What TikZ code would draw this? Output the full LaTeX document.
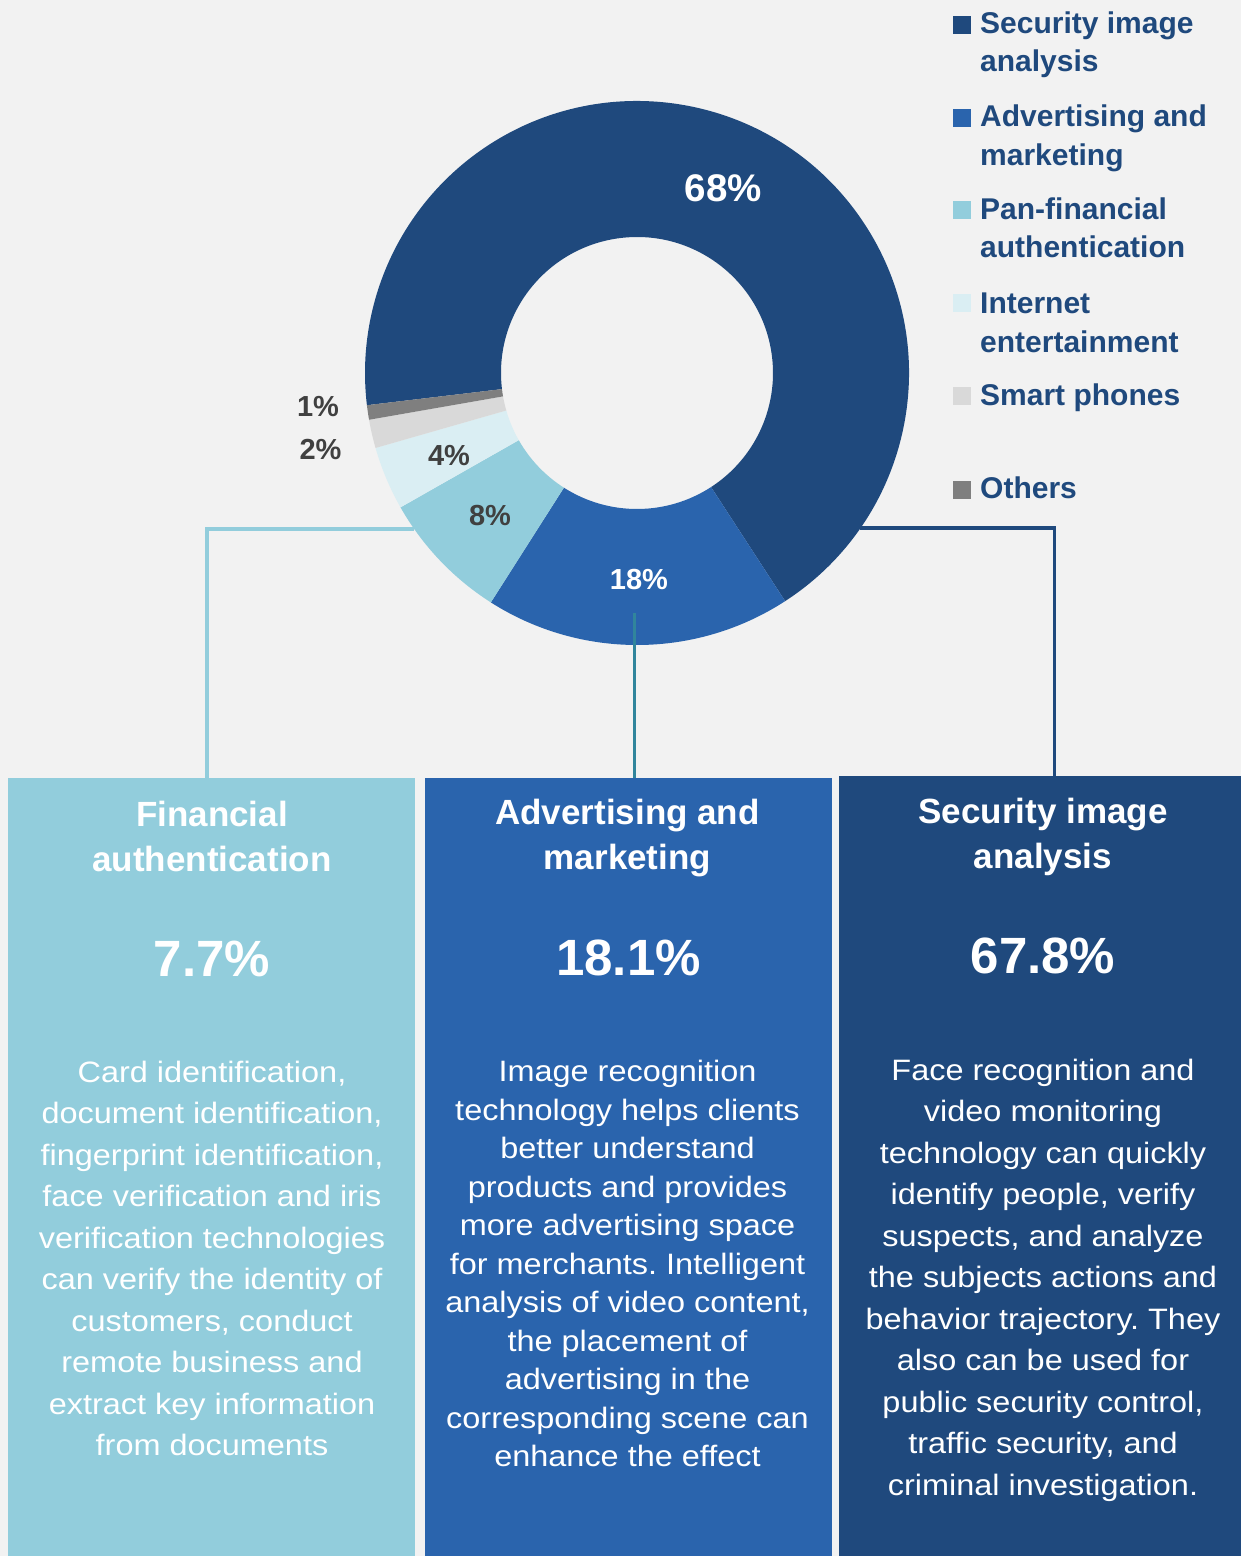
\documentclass[tikz,border=0pt]{standalone}
\usepackage{fontspec}
\setmainfont{Liberation Sans}
\newfontfamily\bodyfont{Liberation Sans}[FakeStretch=1.1]
\frenchspacing
\definecolor{navy}{HTML}{1F497D}
\definecolor{midblue}{HTML}{2A64AD}
\definecolor{lightblue}{HTML}{92CDDC}
\definecolor{paleblue}{HTML}{DAEEF3}
\definecolor{lightgray}{HTML}{D9D9D9}
\definecolor{midgray}{HTML}{7F7F7F}
\definecolor{bg}{HTML}{F2F2F2}
\definecolor{teal}{HTML}{31859C}
\definecolor{lblgray}{HTML}{404040}
\tikzset{
  panel/.style={draw=none, inner sep=0pt, outer sep=0pt, anchor=north west},
  ttl/.style={text=white, font=\bfseries\fontsize{35}{45}\selectfont, align=center, inner sep=0pt, anchor=north},
  pct/.style={text=white, font=\bfseries\fontsize{51}{51}\selectfont, inner sep=0pt, anchor=base},
  body/.style={text=white, font=\bodyfont\frenchspacing\fontsize{29.5}{41.5}\selectfont, align=center, inner sep=0pt, anchor=north},
  leg/.style={text=navy, font=\bfseries\fontsize{30}{38.5}\selectfont, align=left, inner sep=0pt, anchor=north west},
  legsq/.style={minimum size=18pt, inner sep=0pt, anchor=south west},
  seglbl/.style={font=\bfseries\fontsize{29}{29}\selectfont, inner sep=0pt, anchor=base},
  conn/.style={line width=3.2pt},
}
\begin{document}
\begin{tikzpicture}[x=1pt,y=-1pt]
\fill[bg] (0,0) rectangle (1241,1556);
\useasboundingbox (0,0) rectangle (1241,1556);

% panels
\node[panel, fill=lightblue, minimum width=407pt, minimum height=778pt] (b1) at (8,778) {};
\node[panel, fill=midblue, minimum width=407pt, minimum height=778pt] (b2) at (425,778) {};
\node[panel, fill=navy, minimum width=402pt, minimum height=780pt] (b3) at (839,776) {};

% connector end points
\coordinate (d1) at (414,529);
\coordinate (c1) at (207,778);
\coordinate (d3) at (860,528);
\coordinate (c3) at (1054.5,776);
\coordinate (d2) at (634.3,613);
\coordinate (c2) at (634.3,778);

\draw[conn, lightblue] (d1) -| (c1);
\draw[conn, navy] (d3) -| (c3);

% donut
\begin{scope}[shift={(637,373)}, yscale=-1]
  \def\Ro{272}\def\Ri{136}
  \fill[navy] (-57:\Ro) arc[start angle=-57, end angle=186.8, radius=\Ro] -- (186.8:\Ri) arc[start angle=186.8, end angle=-57, radius=\Ri] -- cycle;
  \fill[midblue] (-122.5:\Ro) arc[start angle=-122.5, end angle=-57, radius=\Ro] -- (-57:\Ri) arc[start angle=-57, end angle=-122.5, radius=\Ri] -- cycle;
  \fill[lightblue] (-150.4:\Ro) arc[start angle=-150.4, end angle=-122.5, radius=\Ro] -- (-122.5:\Ri) arc[start angle=-122.5, end angle=-150.4, radius=\Ri] -- cycle;
  \fill[paleblue] (-164:\Ro) arc[start angle=-164, end angle=-150.4, radius=\Ro] -- (-150.4:\Ri) arc[start angle=-150.4, end angle=-164, radius=\Ri] -- cycle;
  \fill[lightgray] (-170.1:\Ro) arc[start angle=-170.1, end angle=-164, radius=\Ro] -- (-164:\Ri) arc[start angle=-164, end angle=-170.1, radius=\Ri] -- cycle;
  \fill[midgray] (-173.2:\Ro) arc[start angle=-173.2, end angle=-170.1, radius=\Ro] -- (-170.1:\Ri) arc[start angle=-170.1, end angle=-173.2, radius=\Ri] -- cycle;
\end{scope}

\draw[conn, teal] (d2) -- (c2);

% segment labels
\node[seglbl, text=white, font=\bfseries\fontsize{38.5}{38.5}\selectfont] (l68) at (723.5,201.5) {68\%};
\node[seglbl, text=white] (l18) at (639,589) {18\%};
\node[seglbl, text=lblgray] (l8) at (490,525) {8\%};
\node[seglbl, text=lblgray] (l4) at (449,465) {4\%};
\node[seglbl, text=lblgray] (l2) at (320.5,459) {2\%};
\node[seglbl, text=lblgray] (l1) at (318,416) {1\%};

% legend
\node[legsq, fill=navy] (q1) at (953,34) {};
\node[leg] (t1) at (980,6.05) {\strut Security image\\analysis};
\node[legsq, fill=midblue] (q2) at (953,127) {};
\node[leg] (t2) at (980,99.75) {\strut Advertising and\\marketing};
\node[legsq, fill=lightblue] (q3) at (953,219) {};
\node[leg] (t3) at (980,192.05) {\strut Pan-financial\\authentication};
\node[legsq, fill=paleblue] (q4) at (953,312) {};
\node[leg] (t4) at (980,286.35) {\strut Internet\\entertainment};
\node[legsq, fill=lightgray] (q5) at (953,405.5) {};
\node[leg] (t5) at (980,378.05) {\strut Smart phones};
\node[legsq, fill=midgray] (q6) at (953,499) {};
\node[leg] (t6) at (980,471.35) {\strut Others};

% panel 1
\node[ttl] (h1) at (212,794.5) {\strut Financial\\authentication};
\node[pct] (p1) at (212,976) {7.7\%};
\node[body] (x1) at (212,1052.95) {\strut Card identification,\\document identification,\\fingerprint identification,\\face verification and iris\\verification technologies\\can verify the identity of\\customers, conduct\\remote business and\\extract key information\\from documents};

% panel 2
\node[ttl] (h2) at (627.5,792.5) {\strut Advertising and\\marketing};
\node[pct] (p2) at (628.5,975) {18.1\%};
\node[body, font=\bodyfont\frenchspacing\fontsize{29.5}{38.5}\selectfont] (x2) at (627.5,1054.5) {\strut Image recognition\\technology helps clients\\better understand\\products and provides\\more advertising space\\for merchants. Intelligent\\analysis of video content,\\the placement of\\advertising in the\\corresponding scene can\\enhance the effect};

% panel 3
\node[ttl] (h3) at (1043,791.5) {\strut Security image\\analysis};
\node[pct] (p3) at (1043,973) {67.8\%};
\node[body] (x3) at (1043,1050.95) {\strut Face recognition and\\video monitoring\\technology can quickly\\identify people, verify\\suspects, and analyze\\the subjects actions and\\behavior trajectory. They\\also can be used for\\public security control,\\traffic security, and\\criminal investigation.};
\end{tikzpicture}
\end{document}
